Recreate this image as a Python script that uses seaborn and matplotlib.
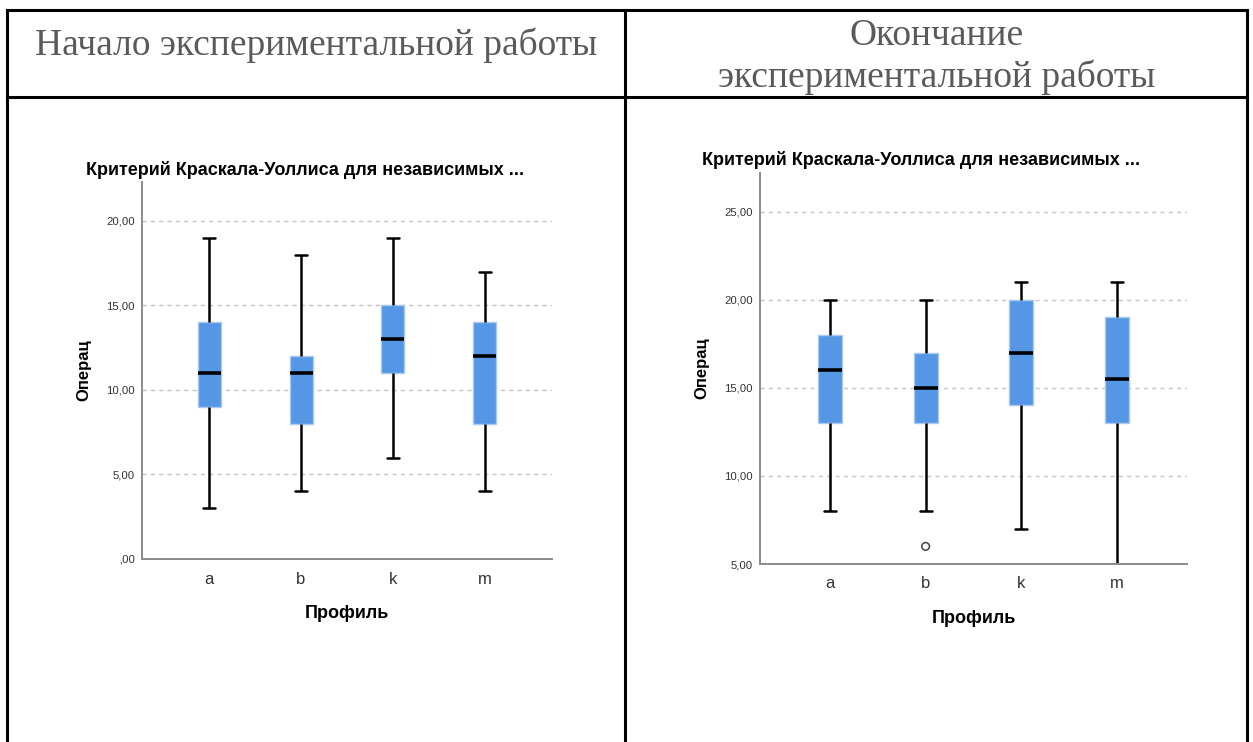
import matplotlib
matplotlib.use("Agg")
import matplotlib.pyplot as plt
from matplotlib.lines import Line2D
import seaborn as sns
import pandas as pd

# ---------------------------------------------------------------- data
profiles = ["a", "b", "k", "m"]

# Начало экспериментальной работы: five-number summary per profile
start_min = [3, 4, 6, 4]
start_q1 = [9, 8, 11, 8]
start_median = [11, 11, 13, 12]
start_q3 = [14, 12, 15, 14]
start_max = [19, 18, 19, 17]

# Окончание экспериментальной работы
end_min = [8, 8, 7, 5]
end_q1 = [13, 13, 14, 13]
end_median = [16, 15, 17, 15.5]
end_q3 = [18, 17, 20, 19]
end_max = [20, 20, 21, 21]
end_outlier_profile = ["b"]
end_outlier_value = [6]

start_ticks = [0, 5, 10, 15, 20]
start_tick_labels = [",00", "5,00", "10,00", "15,00", "20,00"]
end_ticks = [5, 10, 15, 20, 25]
end_tick_labels = ["5,00", "10,00", "15,00", "20,00", "25,00"]

header_left = "Начало экспериментальной работы"
header_right = ["Окончание", "экспериментальной работы"]
chart_title = "Критерий Краскала-Уоллиса для независимых ..."
x_name = "Профиль"
y_name = "Операц"

# ---------------------------------------------------------------- style
W, H = 1253, 742
BOX_BLUE = "#5597e5"
BOX_EDGE = "#a8caf2"
GRID = "#c4c4c4"
SPINE = "#8a8a8a"
HEADER_GRAY = "#5a5a5a"
SERIF = ["Liberation Serif", "DejaVu Serif"]

sns.set_theme(style="white")
plt.rcParams["font.family"] = ["Liberation Sans", "DejaVu Sans"]


def summary_frame(mins, q1s, meds, q3s, maxs):
    rows = []
    for p, lo, a, m, b, hi in zip(profiles, mins, q1s, meds, q3s, maxs):
        for v in (lo, a, m, b, hi):
            rows.append({x_name: p, y_name: v})
    return pd.DataFrame(rows)


def px_rect(x0, y0, x1, y1):
    """Axes rectangle from pixel edges (top-left origin)."""
    return [x0 / W, 1 - y1 / H, (x1 - x0) / W, (y1 - y0) / H]


def style_axes(ax, ylim, ticks, tick_labels):
    ax.set_xlim(-0.73, 3.73)
    ax.set_ylim(*ylim)
    ax.set_yticks(ticks)
    ax.set_yticklabels(tick_labels)
    ax.yaxis.grid(True, linestyle=(0, (3, 3)), color=GRID, linewidth=1.0)
    ax.xaxis.grid(False)
    ax.set_axisbelow(True)
    for side in ("top", "right"):
        ax.spines[side].set_visible(False)
    for side in ("left", "bottom"):
        ax.spines[side].set_color(SPINE)
        ax.spines[side].set_linewidth(1.4)
    ax.tick_params(axis="y", length=0, pad=5, labelsize=8.2, labelcolor="#333333")
    ax.tick_params(axis="x", length=0, pad=9, labelsize=12, labelcolor="#333333")
    ax.set_xlabel(x_name, fontsize=13, fontweight="bold", labelpad=13, color="black")
    ax.set_ylabel(y_name, fontsize=12, fontweight="bold", labelpad=11, color="black")


def draw_panel(ax, df, ylim, ticks, tick_labels, title, title_xy):
    sns.boxplot(
        data=df, x=x_name, y=y_name, order=profiles, ax=ax,
        whis=(0, 100), width=0.25, showfliers=False,
        color=BOX_BLUE, linecolor="black", linewidth=1.8,
        boxprops=dict(facecolor=BOX_BLUE, edgecolor=BOX_EDGE, linewidth=1.0),
        medianprops=dict(color="black", linewidth=2.6),
        whiskerprops=dict(color="black", linewidth=1.8),
        capprops=dict(color="black", linewidth=1.8),
    )
    style_axes(ax, ylim, ticks, tick_labels)
    fig.text(title_xy[0] / W, 1 - title_xy[1] / H, title, fontsize=13,
             fontweight="bold", ha="left", va="baseline", color="black")


fig = plt.figure(figsize=(W / 100, H / 100), dpi=100)
fig.patch.set_facecolor("white")

# ---------------------------------------------------------------- table frame
def hline(y, x0, x1):
    fig.add_artist(Line2D([x0 / W, x1 / W], [1 - y / H, 1 - y / H],
                          color="black", linewidth=2.2, solid_capstyle="projecting"))


def vline(x, y0, y1):
    fig.add_artist(Line2D([x / W, x / W], [1 - y0 / H, 1 - y1 / H],
                          color="black", linewidth=2.2, solid_capstyle="projecting"))


hline(10, 7, 1247)
hline(96.5, 7, 1247)
vline(7, 10, 745)
vline(625, 10, 745)
vline(1247, 10, 745)

fig.text(316 / W, 1 - 55 / H, header_left, family=SERIF,
         fontsize=27, color=HEADER_GRAY, ha="center", va="baseline")
fig.text(937 / W, 1 - 45 / H, header_right[0], family=SERIF,
         fontsize=27, color=HEADER_GRAY, ha="center", va="baseline")
fig.text(937 / W, 1 - 87 / H, header_right[1], family=SERIF,
         fontsize=27, color=HEADER_GRAY, ha="center", va="baseline")

# ---------------------------------------------------------------- charts
ax1 = fig.add_axes(px_rect(142, 182, 552, 559))
draw_panel(ax1, summary_frame(start_min, start_q1, start_median, start_q3, start_max),
           (0, 22.3), start_ticks, start_tick_labels, chart_title, (86, 175))

ax2 = fig.add_axes(px_rect(760, 173, 1187, 564))
draw_panel(ax2, summary_frame(end_min, end_q1, end_median, end_q3, end_max),
           (5, 27.2), end_ticks, end_tick_labels, chart_title, (702, 165))

outliers = pd.DataFrame({x_name: end_outlier_profile, y_name: end_outlier_value})
sns.stripplot(data=outliers, x=x_name, y=y_name, order=profiles, ax=ax2,
              jitter=False, size=5.5, marker="o", facecolors="none",
              edgecolor="#444444", linewidth=1.1, zorder=4)
style_axes(ax2, (5, 27.2), end_ticks, end_tick_labels)

fig.savefig("out.png", dpi=100, facecolor="white")
